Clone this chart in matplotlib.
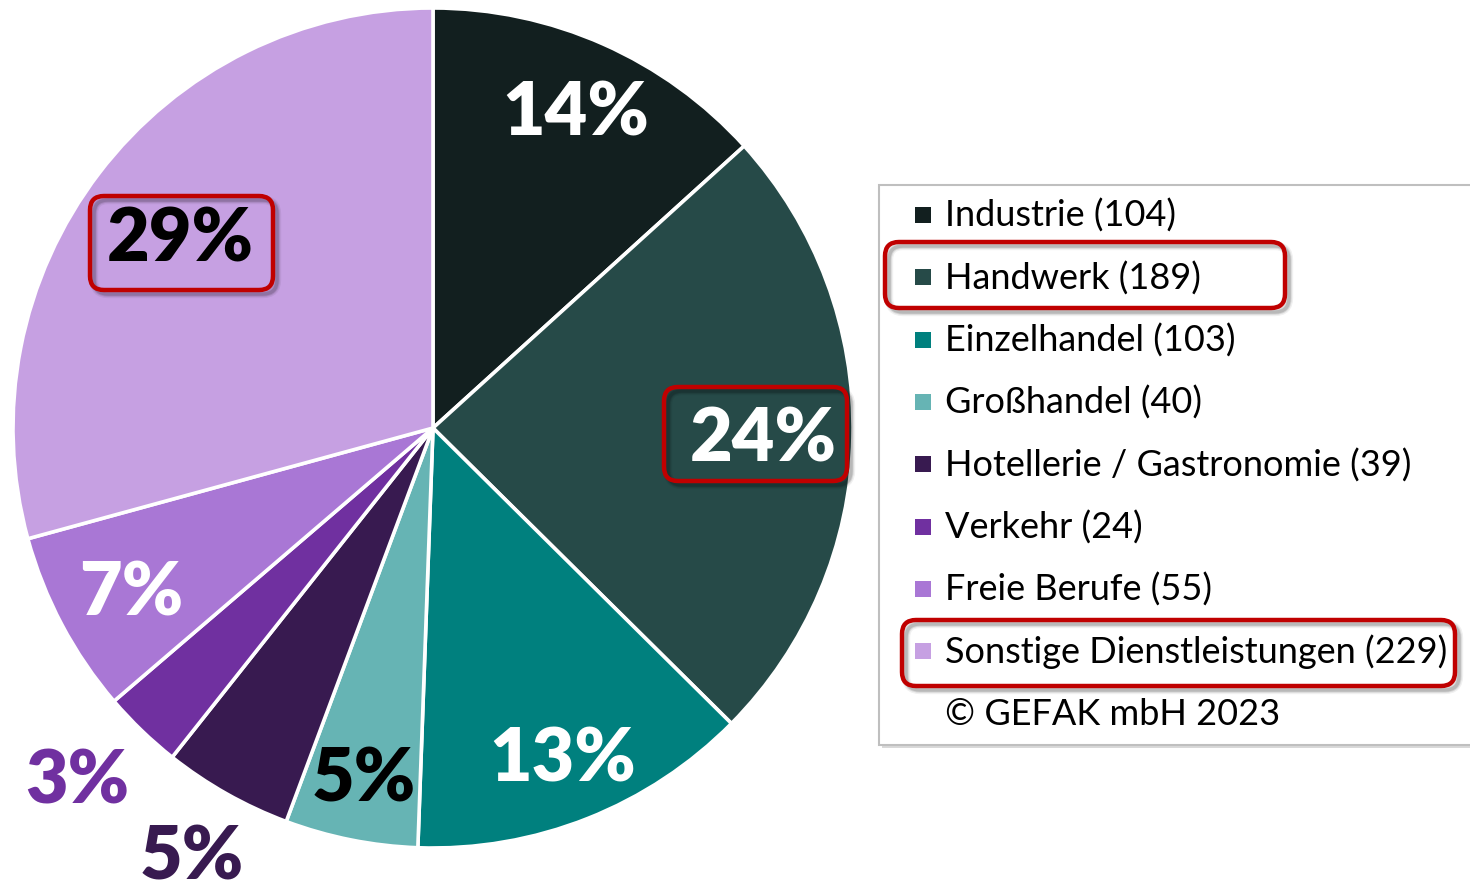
import matplotlib
matplotlib.use("Agg")
import matplotlib.pyplot as plt
from matplotlib.patches import FancyBboxPatch, Rectangle

# ---- data ----
categories = ["Industrie", "Handwerk", "Einzelhandel", "Großhandel",
              "Hotellerie / Gastronomie", "Verkehr", "Freie Berufe",
              "Sonstige Dienstleistungen"]
counts = [104, 189, 103, 40, 39, 24, 55, 229]
pct_labels = ["14%", "24%", "13%", "5%", "5%", "3%", "7%", "29%"]
colors = ["#121f1f", "#264a48", "#00807e", "#66b4b4",
          "#381a50", "#7030a0", "#a977d5", "#c6a0e2"]
label_colors = ["white", "white", "white", "black",
                "#381a50", "#7030a0", "white", "black"]
copyright_text = "© GEFAK mbH 2023"

W, H = 1470, 891
plt.rcParams['font.family'] = ['Lato', 'DejaVu Sans']

fig = plt.figure(figsize=(W / 100, H / 100), dpi=100)
ax = fig.add_axes([0, 0, 1, 1])

def Y(y):
    return H - y

cx, cy, R = 433, 428, 420
ax.pie(counts, colors=colors, startangle=90, counterclock=False,
       center=(cx, Y(cy)), radius=R, frame=True,
       wedgeprops=dict(edgecolor="white", linewidth=2.6))
ax.set_xlim(0, W)
ax.set_ylim(0, H)
ax.set_aspect('equal')
ax.axis('off')

# percentage label positions (pixels)
label_pos = [(576, 115), (763, 440), (563, 760), (364, 781),
             (192, 859), (77, 782), (131, 594), (180, 240)]
for (x, y), t, c in zip(label_pos, pct_labels, label_colors):
    ax.text(x, Y(y), t, color=c, fontsize=53, fontweight='heavy',
            ha='center', va='center')

def red_box(x0, y0, x1, y1):
    for k, a in ((6, 0.06), (4, 0.10), (2.5, 0.14)):
        sh = FancyBboxPatch((x0 + 4, Y(y1) - 4), x1 - x0, y1 - y0,
                            boxstyle="round,pad=0,rounding_size=14",
                            facecolor='none', edgecolor=(0, 0, 0, a),
                            linewidth=k, zorder=5)
        ax.add_patch(sh)
    b = FancyBboxPatch((x0, Y(y1)), x1 - x0, y1 - y0,
                       boxstyle="round,pad=0,rounding_size=14",
                       facecolor='none', edgecolor='#c00000',
                       linewidth=3.2, zorder=6)
    ax.add_patch(b)

red_box(90, 196, 273, 290)
red_box(664, 387, 847, 481)

# ---- legend ----
lx0, ly0, ly1 = 879, 185, 745
ax.add_patch(Rectangle((lx0 + 3, Y(ly1) - 3), W, ly1 - ly0,
                       facecolor='#d9d9d9', edgecolor='none', zorder=2))
ax.add_patch(Rectangle((lx0, Y(ly1)), W, ly1 - ly0,
                       facecolor='white', edgecolor='#bfbfbf',
                       linewidth=1.5, zorder=3))
row0, dy = 215, 62.3
for i, (cat, n, col) in enumerate(zip(categories, counts, colors)):
    yy = row0 + i * dy
    ax.add_patch(Rectangle((915, Y(yy + 8)), 16, 16, facecolor=col,
                           edgecolor='none', zorder=4))
    ax.text(945, Y(yy + 1), f"{cat} ({n})", fontsize=26, color='black',
            ha='left', va='center', zorder=4)
ax.text(945, Y(row0 + len(categories) * dy + 1), copyright_text, fontsize=26,
        color='black', ha='left', va='center', zorder=4)

red_box(885, 242, 1285, 308)
red_box(902, 620, 1455, 686)

fig.savefig("out.png", dpi=100)
